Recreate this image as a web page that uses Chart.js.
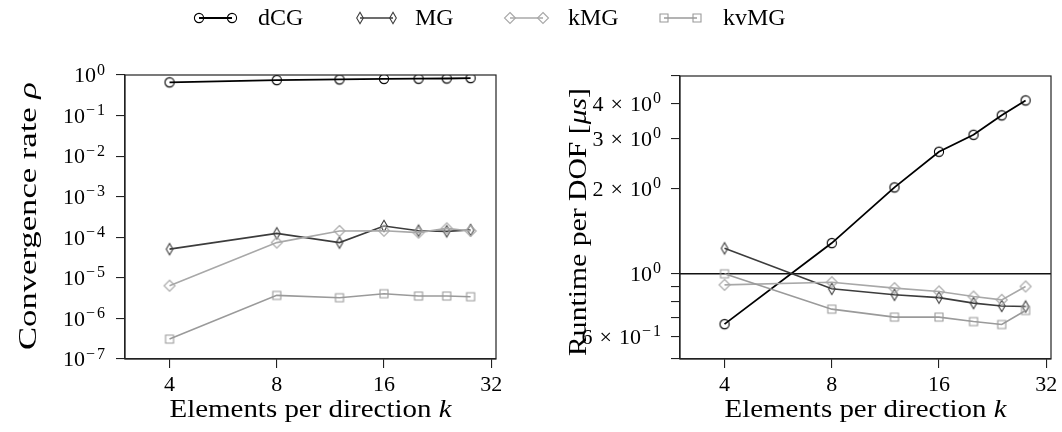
<!DOCTYPE html>
<html><head><meta charset="utf-8">
<script src="https://cdn.jsdelivr.net/npm/chart.js@4.4.0/dist/chart.umd.min.js"></script>
<style>
html,body{margin:0;padding:0;background:#fff;}
#wrap{position:relative;width:1062px;height:432px;overflow:hidden;background:#fff;}
#wrap canvas{position:absolute;top:0;}
.lgt{position:absolute;top:2px;font-family:"Liberation Serif",serif;font-size:24px;line-height:30px;color:#000;white-space:nowrap;}
</style>
</head><body>
<div id="wrap">
<canvas id="c1" width="531" height="432" style="left:0"></canvas>
<canvas id="c2" width="531" height="432" style="left:531px"></canvas>
<div id="legend"></div>
</div>
<script>
// ---------------- data ----------------
const seriesNames = ['dCG', 'MG', 'kMG', 'kvMG'];
const kValues = [4, 8, 12, 16, 20, 24, 28];
const rhoDCG  = [0.66, 0.75, 0.78, 0.80, 0.81, 0.82, 0.84];
const rhoMG   = [5.1e-5, 1.25e-4, 7.4e-5, 1.9e-4, 1.45e-4, 1.40e-4, 1.51e-4];
const rhoKMG  = [6.4e-6, 7.4e-5, 1.43e-4, 1.45e-4, 1.30e-4, 1.66e-4, 1.43e-4];
const rhoKVMG = [3.1e-7, 3.7e-6, 3.24e-6, 4.07e-6, 3.57e-6, 3.57e-6, 3.43e-6];
const timeDCG  = [0.664, 1.284, 2.02, 2.70, 3.10, 3.63, 4.10];
const timeMG   = [1.23, 0.885, 0.843, 0.824, 0.788, 0.770, 0.766];
const timeKMG  = [0.914, 0.934, 0.890, 0.866, 0.831, 0.809, 0.902];
const timeKVMG = [1.0, 0.75, 0.703, 0.703, 0.678, 0.662, 0.742];
const referenceTime = 1;

const xTickValues = [4, 8, 16, 32];
const xTickLabels = ['4', '8', '16', '32'];
const rhoTickValues = [1, 1e-1, 1e-2, 1e-3, 1e-4, 1e-5, 1e-6, 1e-7];
const rhoTickExps = ['0', '\u22121', '\u22122', '\u22123', '\u22124', '\u22125', '\u22126', '\u22127'];
const timeTickValues = [0.5, 0.6, 0.7, 0.8, 0.9, 1, 2, 3, 4, 5];
const timeLabelValues = [0.6, 1, 2, 3, 4];
const timeLabelMant = ['6', '', '2', '3', '4'];
const timeLabelExps = ['\u22121', '0', '0', '0', '0'];

const xTitle = ['Elements per direction ', 'k'];
const rhoTitle = ['Convergence rate ', '\u03c1'];
const timeTitle = ['Runtime per DOF [', '\u03bcs', ']'];

// ---------------- style ----------------
const FONT = '"Liberation Serif", serif';
const colors = ['#000000', '#3c3c3c', '#a8a8a8', '#9a9a9a'];
const markerKinds = ['circle', 'thin', 'diamond', 'square'];
const lineWidths = [1.8, 1.6, 1.6, 1.6];

function makeMarker(kind, color) {
  const c = document.createElement('canvas');
  c.width = 16; c.height = 16;
  const g = c.getContext('2d');
  g.strokeStyle = color; g.lineWidth = 1.1;
  g.beginPath();
  if (kind === 'circle') { g.arc(8, 8, 4.6, 0, Math.PI * 2); }
  else if (kind === 'thin') { g.moveTo(8, 2.3); g.lineTo(11.3, 8); g.lineTo(8, 13.7); g.lineTo(4.7, 8); g.closePath(); }
  else if (kind === 'diamond') { g.moveTo(8, 2.5); g.lineTo(13.5, 8); g.lineTo(8, 13.5); g.lineTo(2.5, 8); g.closePath(); }
  else { g.rect(4, 4, 8, 8); }
  g.stroke();
  return c;
}
const markers = markerKinds.map((k, i) => makeMarker(k, colors[i]));

function ds(i, ys) {
  return {
    label: seriesNames[i],
    data: kValues.map((k, j) => ({ x: k, y: ys[j] })),
    borderColor: colors[i],
    borderWidth: lineWidths[i],
    pointStyle: markers[i],
    pointRadius: 5,
    tension: 0,
    fill: false,
    order: 3 - i
  };
}

// power-of-ten label, right aligned at xRight, vertically centred on y
function drawPow(ctx, xRight, y, mant, exp, size) {
  const big = size + 'px ' + FONT;
  const small = Math.round(size * 0.72) + 'px ' + FONT;
  ctx.textAlign = 'left'; ctx.textBaseline = 'alphabetic';
  ctx.font = small;
  const expChars = Array.from(exp);
  const expW = expChars.reduce((s, ch) => s + ctx.measureText(ch).width, 0) + (expChars.length - 1) * 2;
  ctx.font = big;
  const wTen = ctx.measureText('10').width;
  let wMant = 0, wTimes = 0;
  const gap = 7;
  if (mant) { wMant = ctx.measureText(mant).width; wTimes = ctx.measureText('\u00d7').width; }
  const total = (mant ? wMant + gap + wTimes + gap : 0) + wTen + 1 + expW;
  let x = xRight - total;
  const base = y + size * 0.33;
  if (mant) {
    ctx.fillText(mant, x, base); x += wMant + gap;
    ctx.fillText('\u00d7', x, base); x += wTimes + gap;
  }
  ctx.fillText('10', x, base); x += wTen + 1;
  ctx.font = small;
  expChars.forEach(ch => { ctx.fillText(ch, x, y - 0.5); x += ctx.measureText(ch).width + 2; });
}

// mixed upright/italic title, centred at (x,y), stretched to a target length
function drawParts(ctx, parts, italicIdx, size, x, y, rotate, targetLen) {
  ctx.save();
  ctx.translate(x, y);
  if (rotate) ctx.rotate(-Math.PI / 2);
  const fonts = parts.map((p, i) => (italicIdx.includes(i) ? 'italic ' : '') + size + 'px ' + FONT);
  let total = 0;
  const ws = parts.map((p, i) => { ctx.font = fonts[i]; const w = ctx.measureText(p).width; total += w; return w; });
  const sx = targetLen ? targetLen / total : 1;
  ctx.scale(sx, 1);
  let cx = -total / 2;
  ctx.textAlign = 'left'; ctx.textBaseline = 'middle'; ctx.fillStyle = '#000';
  parts.forEach((p, i) => { ctx.font = fonts[i]; ctx.fillText(p, cx, 0); cx += ws[i]; });
  ctx.restore();
}

function axesPlugin(which) {
  return {
    id: 'axesDeco' + which,
    beforeDatasetsDraw(chart) {
      if (which !== 'time') return;
      const { ctx, chartArea: a, scales } = chart;
      const y = scales.y.getPixelForValue(referenceTime);
      ctx.save();
      ctx.strokeStyle = '#111'; ctx.lineWidth = 1.4;
      ctx.beginPath(); ctx.moveTo(a.left, y); ctx.lineTo(a.right, y); ctx.stroke();
      ctx.restore();
    },
    afterDraw(chart) {
      const { ctx, chartArea: a, scales } = chart;
      ctx.save();
      ctx.strokeStyle = '#222'; ctx.lineWidth = 1.2;
      ctx.strokeRect(a.left, a.top, a.right - a.left, a.bottom - a.top);
      ctx.fillStyle = '#000';
      ctx.font = '22px ' + FONT; ctx.textAlign = 'center'; ctx.textBaseline = 'alphabetic';
      xTickValues.forEach((v, i) => {
        ctx.fillText(xTickLabels[i], scales.x.getPixelForValue(v), a.bottom + 32);
      });
      if (which === 'rho') {
        rhoTickValues.forEach((v, i) => drawPow(ctx, a.left - 20, scales.y.getPixelForValue(v), '', rhoTickExps[i], 22));
        drawParts(ctx, rhoTitle, [1], 26, 29, 216, true, 268);
      } else {
        timeLabelValues.forEach((v, i) => drawPow(ctx, a.left - 19, scales.y.getPixelForValue(v), timeLabelMant[i], timeLabelExps[i], 22));
        drawParts(ctx, timeTitle, [1], 26, 48, 222, true, 268);
      }
      drawParts(ctx, xTitle, [1], 26, (a.left + a.right) / 2, 410, false, 282);
      ctx.restore();
    }
  };
}

function makeChart(id, which, datasets, yMin, yMax, yTicks, geom) {
  return new Chart(document.getElementById(id), {
    type: 'line',
    data: { datasets },
    options: {
      responsive: false, animation: false, events: [],
      layout: { padding: { top: geom.top, right: geom.right, left: 0, bottom: 0 } },
      plugins: { legend: { display: false }, tooltip: { enabled: false }, title: { display: false } },
      scales: {
        x: {
          type: 'logarithmic', min: 3, max: 33,
          afterBuildTicks: s => { s.ticks = xTickValues.map(v => ({ value: v })); },
          afterFit: s => { s.height = geom.xh; },
          ticks: { display: false },
          grid: { drawOnChartArea: false, drawTicks: true, tickLength: 9, color: '#222', lineWidth: 1.1 },
          border: { display: true, color: '#222', width: 1.2 }
        },
        y: {
          type: 'logarithmic', min: yMin, max: yMax,
          afterBuildTicks: s => { s.ticks = yTicks.map(v => ({ value: v })); },
          afterFit: s => { s.width = geom.yw; },
          ticks: { display: false },
          grid: { drawOnChartArea: false, drawTicks: true, tickLength: 9, color: '#222', lineWidth: 1.1 },
          border: { display: true, color: '#222', width: 1.2 }
        }
      }
    },
    plugins: [axesPlugin(which)]
  });
}

makeChart('c1', 'rho', [ds(0, rhoDCG), ds(1, rhoMG), ds(2, rhoKMG), ds(3, rhoKVMG)], 1e-7, 1, rhoTickValues,
  { top: 75, right: 35, xh: 73, yw: 125 });
makeChart('c2', 'time', [ds(0, timeDCG), ds(1, timeMG), ds(2, timeKMG), ds(3, timeKVMG)], 0.5, 5, timeTickValues,
  { top: 76, right: 11, xh: 73, yw: 149 });

// ---------------- legend ----------------
const legendMarkerX = [199, 360, 510, 664];
const legendTextX = [258, 415, 568, 723];
const lg = document.getElementById('legend');
seriesNames.forEach((name, i) => {
  const c = document.createElement('canvas');
  c.width = 50; c.height = 36;
  c.style.cssText = 'position:absolute;top:0;left:' + (legendMarkerX[i] - 8) + 'px';
  const g = c.getContext('2d');
  g.strokeStyle = colors[i]; g.lineWidth = lineWidths[i];
  g.beginPath(); g.moveTo(8, 18); g.lineTo(41, 18); g.stroke();
  g.drawImage(markers[i], 0, 10); g.drawImage(markers[i], 33, 10);
  lg.appendChild(c);
  const t = document.createElement('div');
  t.className = 'lgt'; t.style.left = legendTextX[i] + 'px'; t.textContent = name;
  lg.appendChild(t);
});
</script>
</body></html>
